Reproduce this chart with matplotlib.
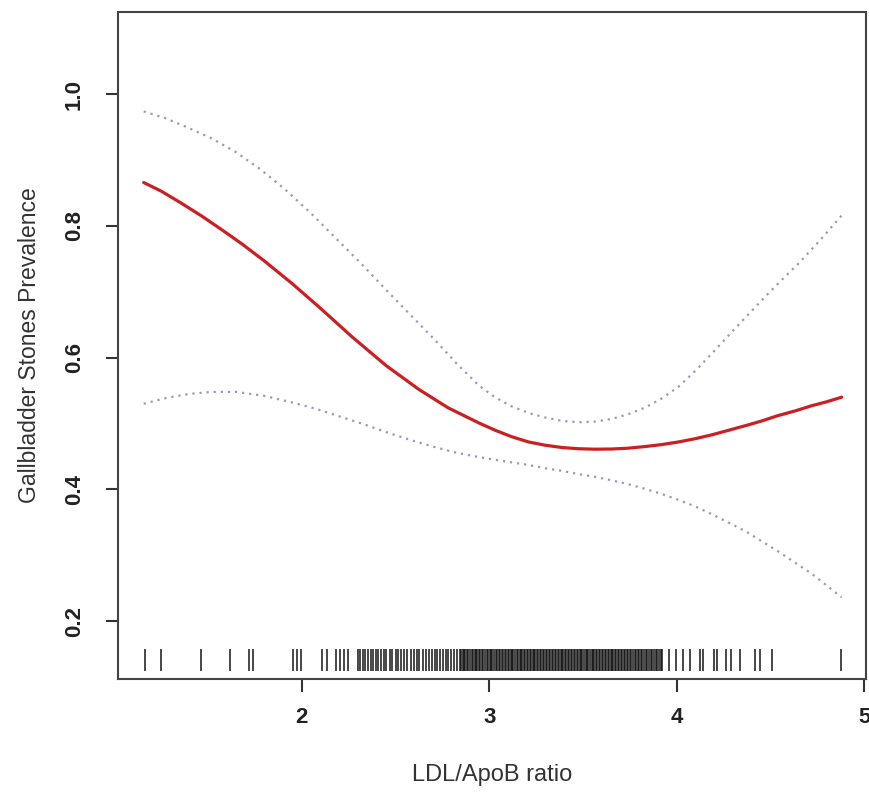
import matplotlib
matplotlib.use("Agg")
import matplotlib.pyplot as plt

plt.rcParams['font.family'] = ['Liberation Sans', 'DejaVu Sans']

# Fitted curve
fit_x = [1.157, 1.25, 1.35, 1.467, 1.57, 1.68, 1.80, 1.947, 2.10, 2.267, 2.45, 2.624,
         2.78, 2.944, 3.03, 3.12, 3.21, 3.30, 3.39, 3.477, 3.565, 3.653, 3.74, 3.83,
         3.92, 4.01, 4.10, 4.19, 4.28, 4.37, 4.455, 4.54, 4.63, 4.72, 4.80, 4.88]
fit_y = [0.866, 0.853, 0.836, 0.815, 0.795, 0.773, 0.747, 0.713, 0.675, 0.632, 0.588, 0.552,
         0.524, 0.501, 0.490, 0.480, 0.472, 0.467, 0.4635, 0.4617, 0.461, 0.4613, 0.4625, 0.465,
         0.468, 0.472, 0.477, 0.483, 0.490, 0.497, 0.504, 0.512, 0.519, 0.527, 0.533, 0.540]

# Upper CI
upper_x = [1.157, 1.27, 1.38, 1.52, 1.65, 1.78, 1.91, 2.05, 2.18, 2.32, 2.45, 2.58,
           2.71, 2.83, 2.944, 3.03, 3.12, 3.21, 3.30, 3.39, 3.477, 3.565, 3.653, 3.74,
           3.83, 3.92, 4.01, 4.10, 4.19, 4.33, 4.47, 4.56, 4.65, 4.77, 4.88]
upper_y = [0.974, 0.964, 0.951, 0.933, 0.912, 0.886, 0.856, 0.819, 0.782, 0.742, 0.703, 0.665,
           0.627, 0.590, 0.558, 0.540, 0.526, 0.516, 0.509, 0.504, 0.502, 0.503, 0.507, 0.514,
           0.524, 0.538, 0.556, 0.580, 0.607, 0.650, 0.692, 0.718, 0.743, 0.780, 0.816]

# Lower CI
lower_x = [1.157, 1.28, 1.40, 1.52, 1.65, 1.80, 1.95, 2.08, 2.20, 2.33, 2.45, 2.58,
           2.70, 2.82, 2.944, 3.03, 3.12, 3.21, 3.30, 3.39, 3.48, 3.565, 3.65, 3.74,
           3.83, 3.92, 4.01, 4.10, 4.19, 4.28, 4.37, 4.455, 4.54, 4.63, 4.72, 4.80, 4.88]
lower_y = [0.530, 0.539, 0.545, 0.548, 0.548, 0.542, 0.532, 0.522, 0.511, 0.499, 0.487, 0.475,
           0.465, 0.456, 0.449, 0.445, 0.441, 0.437, 0.432, 0.428, 0.423, 0.419, 0.414, 0.408,
           0.401, 0.393, 0.384, 0.374, 0.362, 0.349, 0.336, 0.321, 0.306, 0.289, 0.272, 0.254,
           0.236]

# Rug (observed LDL/ApoB ratios)
rug_x = [1.164, 1.249, 1.463, 1.616, 1.718, 1.739, 1.955, 1.973, 1.994, 2.108, 2.133,
         2.185, 2.203, 2.223, 2.249,
         2.302, 2.311, 2.327, 2.338, 2.352, 2.371, 2.379, 2.396, 2.408, 2.423, 2.441,
         2.452, 2.472, 2.483, 2.501, 2.513, 2.532, 2.546, 2.561, 2.584, 2.597, 2.614,
         2.628, 2.646, 2.662, 2.681, 2.693, 2.709, 2.722, 2.738, 2.751, 2.772, 2.781,
         2.798, 2.812, 2.826,
         2.843, 2.849, 2.858, 2.866, 2.871, 2.883, 2.889, 2.897, 2.906, 2.911, 2.922,
         2.929, 2.937, 2.944, 2.953, 2.961, 2.968, 2.979, 2.986, 2.993, 3.004, 3.011,
         3.017, 3.026, 3.035, 3.041, 3.052, 3.058, 3.067, 3.073, 3.084, 3.091, 3.099,
         3.106, 3.114, 3.123, 3.129, 3.138, 3.146, 3.153, 3.162, 3.169, 3.177, 3.186,
         3.192, 3.201, 3.208, 3.217, 3.224, 3.232, 3.241, 3.247, 3.256, 3.263, 3.271,
         3.279, 3.288, 3.294, 3.303, 3.311, 3.318, 3.327, 3.333, 3.342, 3.349, 3.358,
         3.366, 3.372, 3.381, 3.389, 3.396, 3.404, 3.412, 3.419, 3.428, 3.436, 3.442,
         3.451, 3.459, 3.467, 3.474, 3.483, 3.491, 3.497, 3.506, 3.514, 3.522, 3.529,
         3.537, 3.546, 3.553, 3.561, 3.568, 3.577, 3.584, 3.592, 3.601, 3.608, 3.616,
         3.623, 3.632, 3.639, 3.648, 3.656, 3.663, 3.671, 3.679, 3.688, 3.694, 3.703,
         3.711, 3.718, 3.727, 3.736, 3.742, 3.751, 3.759, 3.768, 3.776, 3.783, 3.792,
         3.801, 3.809, 3.817, 3.826, 3.834, 3.843, 3.852, 3.861, 3.869, 3.878, 3.888,
         3.897, 3.906, 3.914, 3.922,
         3.957, 3.995, 4.035, 4.07, 4.124, 4.142, 4.20, 4.213, 4.265, 4.29, 4.34,
         4.418, 4.443, 4.507, 4.877]

x_ticks = [2, 3, 4, 5]
y_ticks = [0.2, 0.4, 0.6, 0.8, 1.0]
x_label = "LDL/ApoB ratio"
y_label = "Gallbladder Stones Prevalence"

fig = plt.figure(figsize=(8.70, 7.96), dpi=100)
ax = fig.add_axes([118/870, 1 - 679/796, (866 - 118)/870, (679 - 12)/796])

ax.plot(upper_x, upper_y, linestyle=(0, (1, 2.2)), color='#9a9ab8', lw=1.6)
ax.plot(lower_x, lower_y, linestyle=(0, (1, 2.2)), color='#9a9ab8', lw=1.6)
ax.plot(fit_x, fit_y, color='#cc1f24', lw=2.3, solid_capstyle='round',
        solid_joinstyle='round')

ax.vlines(rug_x, 0.012, 0.045, transform=ax.get_xaxis_transform(),
          color='#111111', lw=1.2, alpha=0.9)

ax.set_xlim(1.02, 5.01)
ax.set_ylim(0.112, 1.125)
ax.set_xticks(x_ticks)
ax.set_xticklabels([str(v) for v in x_ticks], fontsize=16, fontweight='bold', color='#222222')
ax.set_yticks(y_ticks)
ax.set_yticklabels([f"{v:.1f}" for v in y_ticks], fontsize=16, fontweight='bold',
                   color='#222222', rotation=90, va='center')
ax.tick_params(axis='x', length=9, width=1.5, color='#333333', pad=11)
ax.tick_params(axis='y', length=9, width=1.5, color='#333333', pad=15)
for s in ax.spines.values():
    s.set_color('#444444')
    s.set_linewidth(1.5)

ax.set_xlabel(x_label, fontsize=17, color='#333333', labelpad=26)
ax.set_ylabel(y_label, fontsize=16.5, color='#333333', labelpad=16)

fig.savefig("out.png", dpi=100)
